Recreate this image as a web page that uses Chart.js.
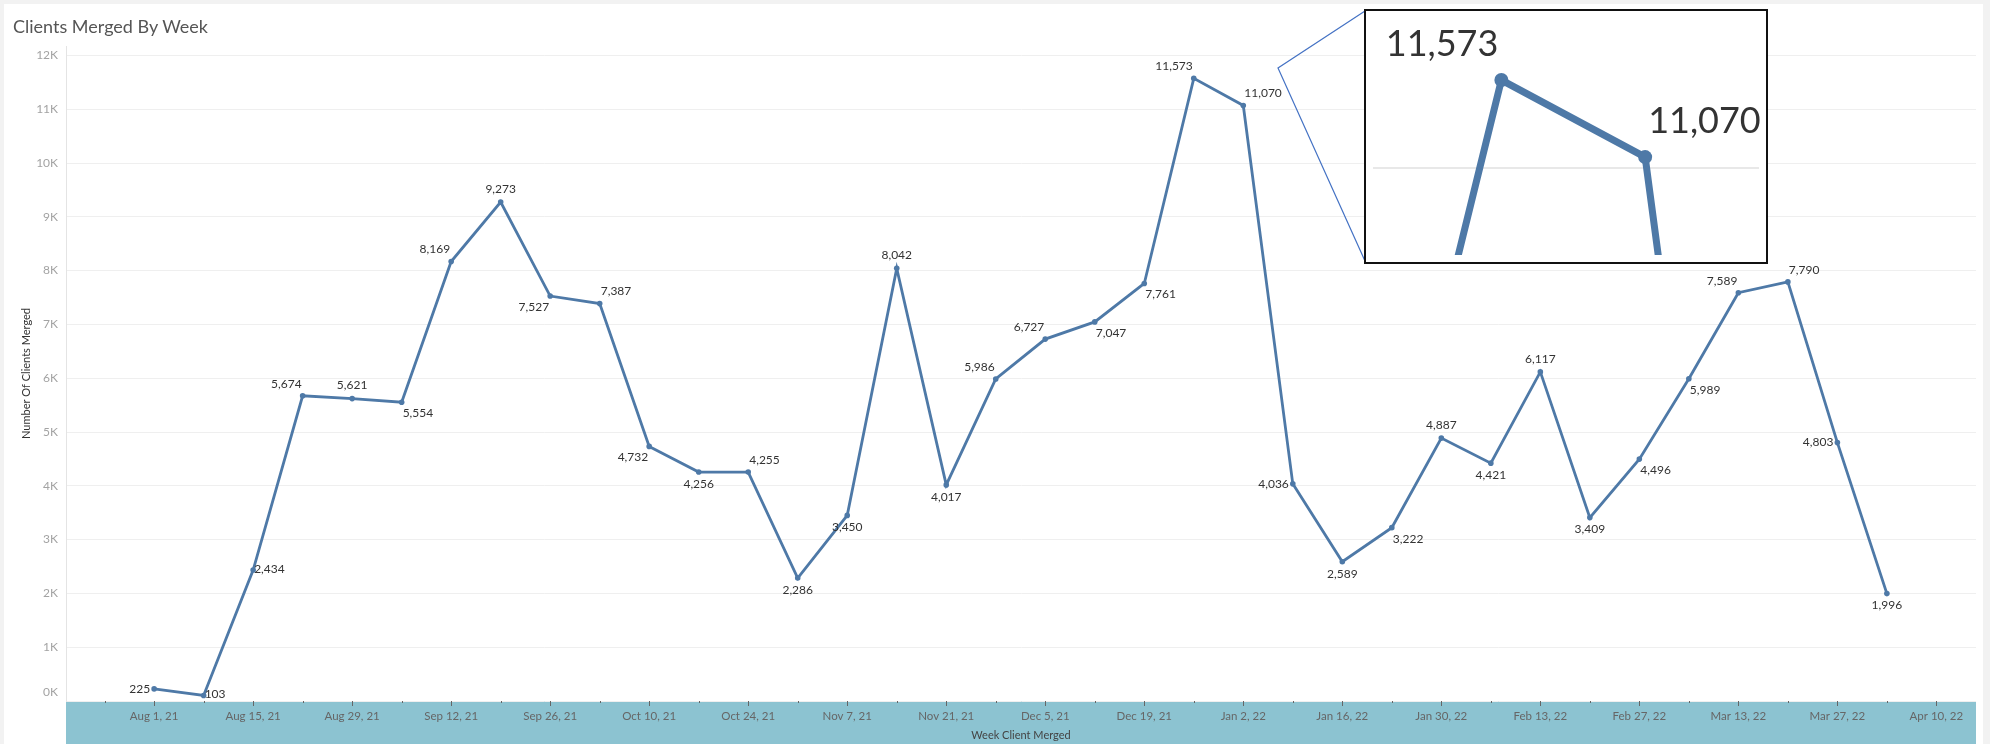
<!DOCTYPE html>
<html>
<head>
<meta charset="utf-8">
<title>Clients Merged By Week</title>
<script src="https://cdn.jsdelivr.net/npm/chart.js@4"></script>
<style>
  html, body { margin: 0; padding: 0; background: #f2f2f2; }
  #wrap { position: relative; width: 1990px; height: 744px; overflow: hidden; }
  #main { position: absolute; left: 0; top: 0; }
  #title { position: absolute; left: 13px; top: 15px; line-height: 22px; font: 18px Lato, sans-serif; color: #555; }
  #zoomBox { position: absolute; left: 1364px; top: 9px; width: 400px; height: 251px; border: 2px solid #111; background: #fff; }
  #zoomBox canvas { display: block; }
</style>
</head>
<body>
<div id="wrap">
  <canvas id="main" width="1990" height="744"></canvas>
  <div id="title">Clients Merged By Week</div>
  <div id="zoomBox"><canvas id="inset" width="400" height="251"></canvas></div>
</div>
<script>
// week starts (one per point)
const weeks = [
  "Aug 1, 21", "Aug 8, 21", "Aug 15, 21", "Aug 22, 21", "Aug 29, 21",
  "Sep 5, 21", "Sep 12, 21", "Sep 19, 21", "Sep 26, 21",
  "Oct 3, 21", "Oct 10, 21", "Oct 17, 21", "Oct 24, 21", "Oct 31, 21",
  "Nov 7, 21", "Nov 14, 21", "Nov 21, 21", "Nov 28, 21",
  "Dec 5, 21", "Dec 12, 21", "Dec 19, 21", "Dec 26, 21",
  "Jan 2, 22", "Jan 9, 22", "Jan 16, 22", "Jan 23, 22", "Jan 30, 22",
  "Feb 6, 22", "Feb 13, 22", "Feb 20, 22", "Feb 27, 22",
  "Mar 6, 22", "Mar 13, 22", "Mar 20, 22", "Mar 27, 22", "Apr 3, 22"
];
const clientsMerged = [
  225, 103, 2434, 5674, 5621, 5554, 8169, 9273, 7527, 7387,
  4732, 4256, 4255, 2286, 3450, 8042, 4017, 5986, 6727, 7047,
  7761, 11573, 11070, 4036, 2589, 3222, 4887, 4421, 6117, 3409,
  4496, 5989, 7589, 7790, 4803, 1996
];
// labelled x ticks, every second week
const xTickLabels = [
  "Aug 1, 21", "Aug 15, 21", "Aug 29, 21", "Sep 12, 21", "Sep 26, 21",
  "Oct 10, 21", "Oct 24, 21", "Nov 7, 21", "Nov 21, 21", "Dec 5, 21",
  "Dec 19, 21", "Jan 2, 22", "Jan 16, 22", "Jan 30, 22", "Feb 13, 22",
  "Feb 27, 22", "Mar 13, 22", "Mar 27, 22", "Apr 10, 22"
];
const yTickValues = [0, 1000, 2000, 3000, 4000, 5000, 6000, 7000, 8000, 9000, 10000, 11000, 12000];
const yTickLabels = ["0K", "1K", "2K", "3K", "4K", "5K", "6K", "7K", "8K", "9K", "10K", "11K", "12K"];

// where each value label sits around its point
const labelSpots = [
  "l", "r", "r", "tl", "t", "br", "tl", "t", "bl", "tr",
  "bl", "b", "tr", "b", "b", "t", "b", "tl", "tl", "br",
  "br", "tl", "tr", "l", "b", "br", "t", "b", "t", "b",
  "br", "br", "tl", "tr", "l", "b"
];

const LINE = "#4e79a7";
const FONT = "Lato, sans-serif";

const points = clientsMerged.map((v, i) => ({ x: i, y: v }));

// value labels next to the points
const pointLabels = {
  id: "pointLabels",
  afterDatasetsDraw(chart, args, opts) {
    const k = opts.k || 1;
    const ctx = chart.ctx;
    const meta = chart.getDatasetMeta(0);
    ctx.save();
    ctx.font = (12 * k) + "px " + FONT;
    ctx.fillStyle = "#333";
    ctx.textBaseline = "middle";
    meta.data.forEach((pt, i) => {
      const txt = clientsMerged[i].toLocaleString("en-US");
      const spot = labelSpots[i];
      let x = pt.x, y = pt.y, align = "center";
      if (spot === "t") { y -= 13 * k; }
      else if (spot === "b") { y += 12 * k; }
      else if (spot === "tl") { x -= 1 * k; y -= 12 * k; align = "right"; }
      else if (spot === "tr") { x += 1 * k; y -= 12 * k; align = "left"; }
      else if (spot === "bl") { x -= 1 * k; y += 11 * k; align = "right"; }
      else if (spot === "br") { x += 1 * k; y += 11 * k; align = "left"; }
      else if (spot === "l") { x -= 4 * k; align = "right"; }
      else if (spot === "r") { x += 1 * k; y -= 1 * k; align = "left"; }
      ctx.textAlign = align;
      ctx.fillText(txt, x, y);
    });
    ctx.restore();
  }
};

// background, teal axis band, tick marks, y labels, callout
const frame = {
  id: "frame",
  beforeDraw(chart) {
    const { ctx, chartArea: a } = chart;
    ctx.save();
    ctx.fillStyle = "#f2f2f2";
    ctx.fillRect(0, 0, chart.width, chart.height);
    ctx.fillStyle = "#fff";
    ctx.fillRect(4, 4, 1979, chart.height - 4);
    ctx.fillStyle = "#8cc3d1";
    ctx.fillRect(a.left, a.bottom, a.right - a.left, chart.height - a.bottom);
    ctx.restore();
  },
  afterDraw(chart) {
    const { ctx, chartArea: a } = chart;
    const xs = chart.scales.x, ys = chart.scales.y;
    ctx.save();
    // week ticks, longer on labelled weeks
    ctx.strokeStyle = "#666";
    ctx.lineWidth = 1;
    xs.ticks.forEach(t => {
      const px = Math.round(xs.getPixelForValue(t.value)) + 0.5;
      const len = t.value % 2 === 0 ? 5 : 2;
      ctx.beginPath();
      ctx.moveTo(px, a.bottom);
      ctx.lineTo(px, a.bottom + len);
      ctx.stroke();
    });
    // y labels, bottom one kept inside the plot
    ctx.font = "12px " + FONT;
    ctx.fillStyle = "#a3a3a3";
    ctx.textAlign = "right";
    ctx.textBaseline = "middle";
    yTickValues.forEach((v, i) => {
      const py = Math.min(ys.getPixelForValue(v), a.bottom - 9);
      ctx.fillText(yTickLabels[i], a.left - 8, py);
    });
    // callout to the zoom box
    ctx.strokeStyle = "#4472c4";
    ctx.lineWidth = 1.2;
    ctx.beginPath();
    ctx.moveTo(1365, 11);
    ctx.lineTo(1278, 68);
    ctx.lineTo(1365, 261);
    ctx.stroke();
    ctx.restore();
  }
};

new Chart(document.getElementById("main"), {
  type: "line",
  data: {
    datasets: [{
      data: points,
      borderColor: LINE,
      backgroundColor: LINE,
      borderWidth: 2.8,
      pointRadius: 2.8,
      pointBorderWidth: 0,
      pointBackgroundColor: LINE,
      tension: 0
    }]
  },
  options: {
    responsive: false,
    animation: false,
    layout: { padding: { top: 46, right: 14, left: 0, bottom: 0 } },
    plugins: {
      legend: { display: false },
      tooltip: { enabled: false },
      pointLabels: { k: 1 }
    },
    scales: {
      x: {
        type: "linear",
        min: -1.78,
        max: 36.8,
        afterFit: s => { s.height = 43; },
        grid: { display: false, drawTicks: false },
        border: { display: false },
        ticks: {
          stepSize: 1,
          includeBounds: false,
          autoSkip: false,
          maxRotation: 0,
          padding: 8,
          color: "#666",
          font: { family: FONT, size: 11.5 },
          callback: v => (v >= 0 && v % 2 === 0) ? xTickLabels[v / 2] : ""
        },
        title: {
          display: true,
          text: "Week Client Merged",
          color: "#444",
          font: { family: FONT, size: 11 },
          padding: { top: 0, bottom: 2 }
        }
      },
      y: {
        min: 0,
        max: 12175,
        afterFit: s => { s.width = 66; },
        afterBuildTicks: s => { s.ticks = yTickValues.map(v => ({ value: v })); },
        grid: { color: "#efefef", lineWidth: 1, drawTicks: false },
        border: { display: true, color: "#e4e4e4" },
        ticks: { display: false },
        title: {
          display: true,
          text: "Number Of Clients Merged",
          color: "#333",
          font: { family: FONT, size: 11 },
          padding: { top: 20, bottom: 0 }
        }
      }
    }
  },
  plugins: [frame, pointLabels]
});

// magnified view of the Dec 26 / Jan 2 peak
new Chart(document.getElementById("inset"), {
  type: "line",
  data: {
    datasets: [{
      data: points,
      borderColor: LINE,
      backgroundColor: LINE,
      borderWidth: 7,
      pointRadius: 7,
      pointBorderWidth: 0,
      pointBackgroundColor: LINE,
      tension: 0
    }]
  },
  options: {
    responsive: false,
    animation: false,
    layout: { padding: 0 },
    plugins: {
      legend: { display: false },
      tooltip: { enabled: false },
      pointLabels: { k: 3 }
    },
    scales: {
      x: {
        type: "linear",
        min: 20.107,
        max: 22.792,
        display: false
      },
      y: {
        min: 10431,
        max: 11978,
        afterFit: s => { s.width = 0; },
        afterBuildTicks: s => { s.ticks = yTickValues.filter(v => v > s.min && v < s.max).map(v => ({ value: v })); },
        grid: { color: "#e8e8e8", lineWidth: 2, drawTicks: false },
        border: { display: false },
        ticks: { display: false }
      }
    }
  },
  plugins: [pointLabels]
});
</script>
</body>
</html>
